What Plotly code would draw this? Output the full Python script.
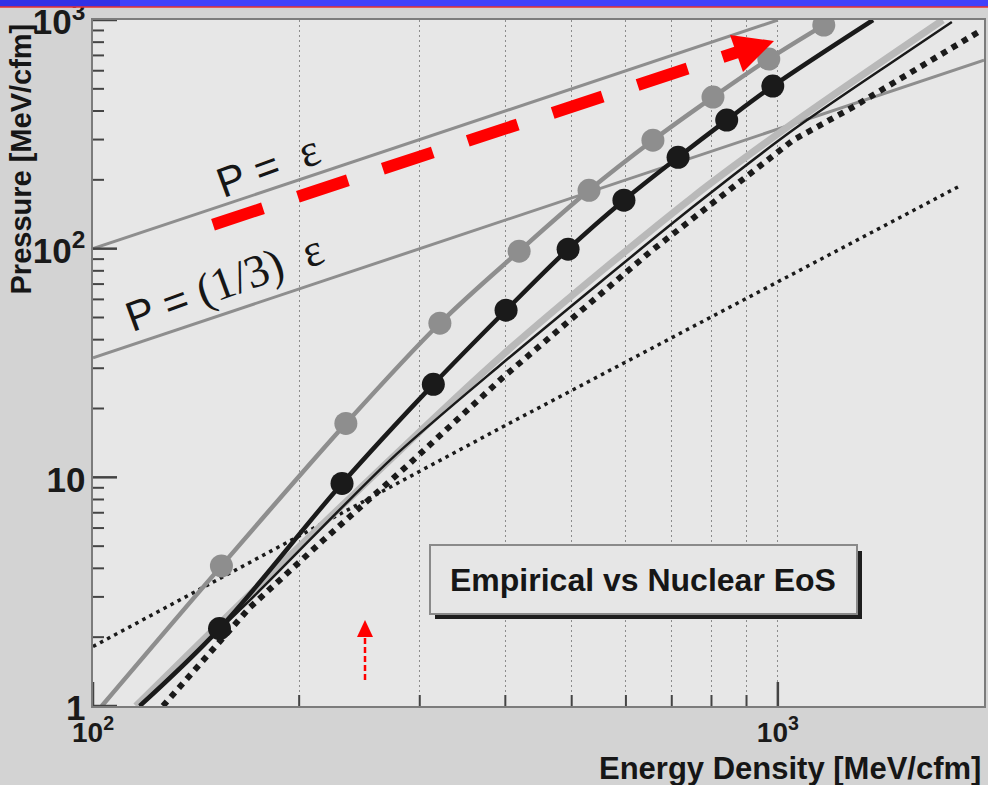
import plotly.graph_objects as go

# ---- data: pressure P vs energy density eps, both in MeV/fm^3 ----
# empirical EoS (grey points)
emp_eps = [154, 234, 321, 419, 530, 657, 804, 970, 1167]
emp_p = [4.1, 17.2, 47.2, 97.5, 180, 298, 460, 675, 950]
emp_tail_eps = [103]
emp_tail_p = [1.0]

# nuclear EoS (black points)
nuc_eps = [153, 231, 314, 401, 494, 596, 715, 842, 983]
nuc_p = [2.18, 9.4, 25.5, 53.8, 99.5, 163, 251, 365, 514]
nuc_low_eps = [117]
nuc_low_p = [1.0]
nuc_high_eps = [1377]
nuc_high_p = [1000]

# other model curves
band_eps = [115.5, 173.5, 393, 751, 1052, 1741]
band_p = [1.0, 3.3, 33.5, 168, 354, 1000]

thin_eps = [117, 173.5, 271.5, 393, 751, 1052, 1507, 1795]
thin_p = [1.0, 3.11, 11.9, 30.9, 152, 330, 689, 980]

dotted_eps = [126.5, 169.5, 216.7, 290, 397, 650, 1052, 1287, 1985]
dotted_p = [1.0, 2.7, 5.3, 11.5, 27.4, 96.5, 298, 416, 904]

fine_eps = [100, 393, 1856]
fine_p = [1.82, 16.4, 190]

# reference lines P = eps and P = eps/3
lin_eps = [100, 1000]
lin_p = [100, 1000]
third_eps = [100, 2000]
third_p = [33.33, 666.7]

# axis ticks
x_major = [100, 1000]
x_minor = [200, 300, 400, 500, 600, 700, 800, 900]
x_grid = [100, 200, 300, 400, 500, 600, 700, 800, 900, 1000]
x_grid_text = ["10<sup>2</sup>", "", "", "", "", "", "", "", "", "10<sup>3</sup>"]
y_major = [1, 10, 100, 1000]
y_minor = [2, 3, 4, 5, 6, 7, 8, 9, 20, 30, 40, 50, 60, 70, 80, 90,
           200, 300, 400, 500, 600, 700, 800, 900]

GREY = "#8e8e8e"
LIGHT = "#b9b9b9"
BLACK = "#1a1a1a"
RED = "#ff0000"
TICK = "#444444"

fig = go.Figure()

fig.add_trace(go.Scatter(x=lin_eps, y=lin_p, mode="lines",
                         line=dict(color=GREY, width=3)))
fig.add_trace(go.Scatter(x=third_eps, y=third_p, mode="lines",
                         line=dict(color=GREY, width=3)))
fig.add_trace(go.Scatter(x=fine_eps, y=fine_p, mode="lines",
                         line=dict(color=BLACK, width=3.5, dash="3.5px,4.5px")))
fig.add_trace(go.Scatter(x=band_eps, y=band_p, mode="lines", line_shape="spline",
                         line=dict(color=LIGHT, width=7, smoothing=0.8)))
fig.add_trace(go.Scatter(x=thin_eps, y=thin_p, mode="lines", line_shape="spline",
                         line=dict(color=BLACK, width=2.5, smoothing=0.8)))
fig.add_trace(go.Scatter(x=dotted_eps, y=dotted_p, mode="lines",
                         line=dict(color=BLACK, width=6, dash="6px,6px")))

# empirical curve with points
fig.add_trace(go.Scatter(x=emp_tail_eps + emp_eps, y=emp_tail_p + emp_p,
                         mode="lines", line_shape="spline",
                         line=dict(color=GREY, width=4.5)))
fig.add_trace(go.Scatter(x=emp_eps, y=emp_p, mode="markers",
                         marker=dict(color=GREY, size=23, line=dict(width=0))))

# nuclear curve with points
fig.add_trace(go.Scatter(x=nuc_low_eps + nuc_eps + nuc_high_eps,
                         y=nuc_low_p + nuc_p + nuc_high_p,
                         mode="lines", line_shape="spline",
                         line=dict(color=BLACK, width=4.5)))
fig.add_trace(go.Scatter(x=nuc_eps, y=nuc_p, mode="markers",
                         marker=dict(color=BLACK, size=23, line=dict(width=0))))

# ---- plot geometry helpers (pixel -> paper) ----
L, R, T, B = 93, 984, 20, 706


def pp(xp, yp):
    return ((xp - L) / (R - L), (B - yp) / (B - T))


shapes = []

# inner tick marks along the bottom and left frame edges
for vals, length, width in ((y_minor, 11, 2), (y_major, 24, 2.5)):
    for v in vals:
        shapes.append(dict(type="line", xref="paper", yref="y", layer="above",
                           x0=0, x1=length / (R - L), y0=v, y1=v,
                           line=dict(color=TICK, width=width)))
for vals, length, width in ((x_minor, 11, 2), (x_major, 24, 2.5)):
    for v in vals:
        shapes.append(dict(type="line", xref="x", yref="paper", layer="above",
                           x0=v, x1=v, y0=0, y1=length / (B - T),
                           line=dict(color=TICK, width=width)))

# slide header strip
x0, y0 = pp(0, 0)
x1, y1 = pp(988, 7)
xm, _ = pp(120, 0)
shapes.append(dict(type="rect", xref="paper", yref="paper", x0=x0, x1=x1, y0=y1, y1=y0,
                   fillcolor="#4141fb", line=dict(width=0), layer="above"))
shapes.append(dict(type="rect", xref="paper", yref="paper", x0=x0, x1=xm, y0=y1, y1=y0,
                   fillcolor="#3131e6", line=dict(width=0), layer="above"))
shapes.append(dict(type="line", xref="paper", yref="paper", x0=x0, x1=x1, y0=y1, y1=y1,
                   line=dict(color="#e83030", width=1.5), layer="above"))

# label box with drop shadow
sx0, sy0 = pp(435, 551)
sx1, sy1 = pp(862, 619)
shapes.append(dict(type="rect", xref="paper", yref="paper", x0=sx0, x1=sx1, y0=sy1, y1=sy0,
                   fillcolor="#1e1e1e", line=dict(width=0)))
bx0, by0 = pp(430, 545)
bx1, by1 = pp(857, 614)
shapes.append(dict(type="rect", xref="paper", yref="paper", x0=bx0, x1=bx1, y0=by1, y1=by0,
                   fillcolor="#e6e6e6", line=dict(color="#8a8a8a", width=2)))

# big red dashed arrow
ax0, ay0 = pp(213, 224.7)
ax1, ay1 = pp(740, 51.3)
shapes.append(dict(type="line", xref="paper", yref="paper", x0=ax0, y0=ay0, x1=ax1, y1=ay1,
                   line=dict(color=RED, width=12, dash="52.6px,36.8px")))
h1 = pp(730, 35)
h2 = pp(774, 41)
h3 = pp(743, 72)
shapes.append(dict(type="path", xref="paper", yref="paper",
                   path=f"M {h1[0]},{h1[1]} L {h2[0]},{h2[1]} L {h3[0]},{h3[1]} Z",
                   fillcolor=RED, line=dict(width=0)))

# small red dashed arrow
v0 = pp(365, 680)
v1 = pp(365, 636)
shapes.append(dict(type="line", xref="paper", yref="paper", x0=v0[0], y0=v0[1], x1=v1[0], y1=v1[1],
                   line=dict(color=RED, width=2.5, dash="6px,3px")))
t1 = pp(357, 637)
t2 = pp(373, 637)
t3 = pp(365, 620)
shapes.append(dict(type="path", xref="paper", yref="paper",
                   path=f"M {t1[0]},{t1[1]} L {t2[0]},{t2[1]} L {t3[0]},{t3[1]} Z",
                   fillcolor=RED, line=dict(width=0)))

SERIF = "font-family:'Liberation Serif','DejaVu Serif',serif"
annotations = []


def note(xp, yp, text, size, **kw):
    ax_, ay_ = pp(xp, yp)
    kw.setdefault("xanchor", "center")
    kw.setdefault("yanchor", "middle")
    annotations.append(dict(x=ax_, y=ay_, xref="paper", yref="paper", showarrow=False,
                            text=text, font=dict(size=size, color="#161616",
                                                 weight=kw.pop("weight", "normal")),
                            **kw))


note(643, 580, "Empirical vs Nuclear EoS", 32, weight="bold")
note(268, 166,
     f"P =\u00a0 <span style=\"{SERIF};font-size:46px\">\u03b5</span>",
     42, textangle=-20)
note(224, 283,
     f"P = <span style=\"{SERIF};font-size:46px\">(1/3)\u00a0 \u03b5</span>",
     42, textangle=-20)
note(983, 768, "Energy Density [MeV/cfm]", 31, weight="bold", xanchor="right")
note(20, 22, "Pressure [MeV/cfm]", 29, weight="bold", yanchor="top", textangle=-90)

tickfont = dict(size=28, color="#1a1a1a", weight="bold")
grid = dict(gridcolor="#8c8c8c", gridwidth=1, griddash="2px,3px")

fig.update_layout(
    template="none",
    width=988, height=785,
    margin=dict(l=L, r=988 - R, t=T, b=785 - B, autoexpand=False),
    paper_bgcolor="#d3d3d3",
    plot_bgcolor="#e7e7e7",
    showlegend=False,
    font=dict(family="'Liberation Sans', Arial, sans-serif"),
    shapes=shapes,
    annotations=annotations,
    xaxis=dict(
        type="log", range=[2, 3.301], automargin=False,
        showline=True, mirror=True, linecolor="#7c7c7c", linewidth=2,
        tickmode="array", tickvals=x_grid, ticktext=x_grid_text, ticks="",
        tickfont=tickfont, ticklabeloverflow="allow", ticklabelstandoff=0,
        showgrid=True, zeroline=False, **grid,
    ),
    yaxis=dict(
        type="log", range=[0, 3], automargin=False,
        showline=True, mirror=True, linecolor="#7c7c7c", linewidth=2,
        tickmode="linear", tick0=0, dtick=1, exponentformat="power", ticks="",
        tickfont=tickfont, ticklabeloverflow="allow", ticklabelshift=2,
        showgrid=False, zeroline=False,
    ),
)

fig.write_html("out.html")
